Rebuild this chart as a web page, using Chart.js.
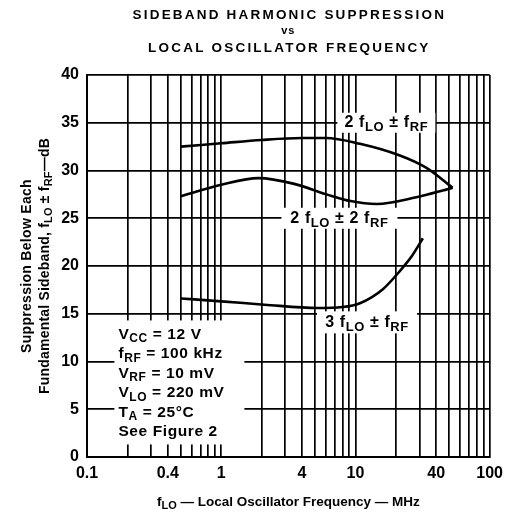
<!DOCTYPE html>
<html>
<head>
<meta charset="utf-8">
<script src="https://cdn.jsdelivr.net/npm/chart.js@4.4.0/dist/chart.umd.min.js"></script>
<style>
  html, body { margin: 0; padding: 0; background: #fff; }
</style>
</head>
<body>
<canvas id="chart" width="510" height="518"></canvas>
<script>
// 2 fLO ± fRF
const freqA = [0.5, 1, 2, 4, 6, 10.8, 21.2, 33.6, 53];
const suppA = [32.5, 32.85, 33.2, 33.4, 33.4, 32.8, 31.6, 30.3, 28.2];
// 2 fLO ± 2 fRF
const freqB = [0.5, 1, 1.9, 3.5, 6.1, 9.2, 14.4, 28.4, 44.6, 53];
const suppB = [27.3, 28.5, 29.2, 28.6, 27.5, 26.8, 26.5, 27.2, 27.9, 28.2];
// 3 fLO ± fRF
const freqC = [0.5, 1, 2.1, 5.2, 8, 10.8, 16.1, 21.2, 26.5, 31.8];
const suppC = [16.6, 16.3, 15.95, 15.6, 15.7, 16.1, 17.6, 19.4, 21.1, 22.9];

const xTickLabels = [0.1, 0.4, 1, 4, 10, 40, 100];
const yTicks = [0, 5, 10, 15, 20, 25, 30, 35, 40];

// log grid: 1..9 in every decade
const xGrid = [];
[0.1, 1, 10].forEach(d => {
  for (let m = 1; m < 10; m++) xGrid.push(parseFloat((m * d).toFixed(1)));
});
xGrid.push(100);

const FONT = '"Liberation Sans", Arial, sans-serif';

function pts(xs, ys) {
  return xs.map((x, i) => ({ x: x, y: ys[i] }));
}

// draw text made of [text, isSubscript] parts
function richText(ctx, parts, x, y, size, align, spacing) {
  const sub = Math.round(size * 0.8);
  const f = s => 'bold ' + s + 'px ' + FONT;
  ctx.letterSpacing = (spacing || 0) + 'px';
  let w = 0;
  parts.forEach(p => { ctx.font = f(p[1] ? sub : size); w += ctx.measureText(p[0]).width; });
  let cx = align === 'center' ? x - w / 2 : x;
  ctx.textAlign = 'left';
  ctx.textBaseline = 'middle';
  parts.forEach(p => {
    ctx.font = f(p[1] ? sub : size);
    ctx.fillText(p[0], cx, p[1] ? y + size * 0.3 : y);
    cx += ctx.measureText(p[0]).width;
  });
  ctx.letterSpacing = '0px';
  return w;
}

const curveLabels = [
  { x: 17, y: 35, parts: [['2 f'], ['LO', 1], [' ± f'], ['RF', 1]], box: [98, 20] },
  { x: 7.6, y: 25, parts: [['2 f'], ['LO', 1], [' ± 2 f'], ['RF', 1]], box: [116, 21] },
  { x: 12.2, y: 14.1, parts: [['3 f'], ['LO', 1], [' ± f'], ['RF', 1]], box: [100, 22] }
];

const notes = [
  [['V'], ['CC', 1], [' = 12 V']],
  [['f'], ['RF', 1], [' = 100 kHz']],
  [['V'], ['RF', 1], [' = 10 mV']],
  [['V'], ['LO', 1], [' = 220 mV']],
  [['T'], ['A', 1], [' = 25°C']],
  [['See Figure 2']]
];

const textPlugin = {
  id: 'textPlugin',
  beforeDatasetsDraw(chart) {
    const ctx = chart.ctx;
    const xs = chart.scales.x, ys = chart.scales.y;
    ctx.save();
    // curve labels on white boxes
    curveLabels.forEach(l => {
      const px = xs.getPixelForValue(l.x), py = ys.getPixelForValue(l.y);
      ctx.fillStyle = '#fff';
      ctx.fillRect(px - l.box[0] / 2, py - l.box[1] / 2, l.box[0], l.box[1]);
      ctx.fillStyle = '#000';
      richText(ctx, l.parts, px, py, 16, 'center', 0.6);
    });
    // conditions box
    const bx = xs.getPixelForValue(0.16), by = ys.getPixelForValue(14.3);
    ctx.fillStyle = '#fff';
    ctx.fillRect(bx, by, 130, 124);
    ctx.fillStyle = '#000';
    notes.forEach((n, i) => richText(ctx, n, bx + 4, by + 14 + i * 19.5, 15.5, 'left', 0.6));
    ctx.restore();
  },
  afterDraw(chart) {
    const ctx = chart.ctx;
    const a = chart.chartArea;
    const cx = (a.left + a.right) / 2;
    ctx.save();
    ctx.fillStyle = '#000';
    ctx.textAlign = 'center';
    ctx.textBaseline = 'middle';
    ctx.font = 'bold 13.5px ' + FONT;
    ctx.letterSpacing = '2.2px';
    ctx.fillText('SIDEBAND HARMONIC SUPPRESSION', cx + 1, 15);
    ctx.fillText('LOCAL OSCILLATOR FREQUENCY', cx + 1, 48);
    ctx.font = 'bold 11px ' + FONT;
    ctx.letterSpacing = '1px';
    ctx.fillText('vs', cx, 31);
    ctx.letterSpacing = '0px';
    // x title
    richText(ctx, [['f'], ['LO', 1], [' — Local Oscillator Frequency — MHz']], cx, 502, 13.5, 'center', 0);
    // y title
    ctx.translate(27, (a.top + a.bottom) / 2);
    ctx.rotate(-Math.PI / 2);
    richText(ctx, [['Suppression Below Each']], 0, 0, 14, 'center', 0.3);
    richText(ctx, [['Fundamental Sideband, f'], ['LO', 1], [' ± f'], ['RF', 1], ['—dB']], 0, 18, 14, 'center', 0.2);
    ctx.restore();
  }
};

const ctx = document.getElementById('chart');

new Chart(ctx, {
  type: 'line',
  data: {
    datasets: [
      { label: '2 fLO ± fRF', data: pts(freqA, suppA) },
      { label: '2 fLO ± 2 fRF', data: pts(freqB, suppB) },
      { label: '3 fLO ± fRF', data: pts(freqC, suppC) }
    ].map(d => Object.assign(d, {
      borderColor: '#000',
      borderWidth: 2.6,
      pointRadius: 0,
      fill: false,
      cubicInterpolationMode: 'monotone'
    }))
  },
  options: {
    responsive: false,
    animation: false,
    devicePixelRatio: 1,
    layout: { padding: { top: 75, right: 17, left: 0, bottom: 0 } },
    scales: {
      x: {
        type: 'logarithmic',
        min: 0.1,
        max: 100,
        afterFit: s => { s.height = 61; },
        afterBuildTicks: s => { s.ticks = xGrid.map(v => ({ value: v })); },
        grid: { color: '#000', lineWidth: 1.7, drawTicks: false },
        border: { color: '#000', width: 2 },
        ticks: {
          autoSkip: false,
          maxRotation: 0,
          padding: 7,
          color: '#000',
          font: { family: FONT, size: 16, weight: 'bold' },
          callback: v => xTickLabels.includes(v) ? String(v) : ''
        }
      },
      y: {
        min: 0,
        max: 40,
        afterFit: s => { s.width = 87; },
        afterBuildTicks: s => { s.ticks = yTicks.map(v => ({ value: v })); },
        grid: { color: '#000', lineWidth: 1.7, drawTicks: false },
        border: { color: '#000', width: 2 },
        ticks: {
          padding: 8,
          color: '#000',
          font: { family: FONT, size: 16, weight: 'bold' }
        }
      }
    },
    plugins: {
      legend: { display: false },
      tooltip: { enabled: false }
    }
  },
  plugins: [textPlugin]
});
</script>
</body>
</html>
